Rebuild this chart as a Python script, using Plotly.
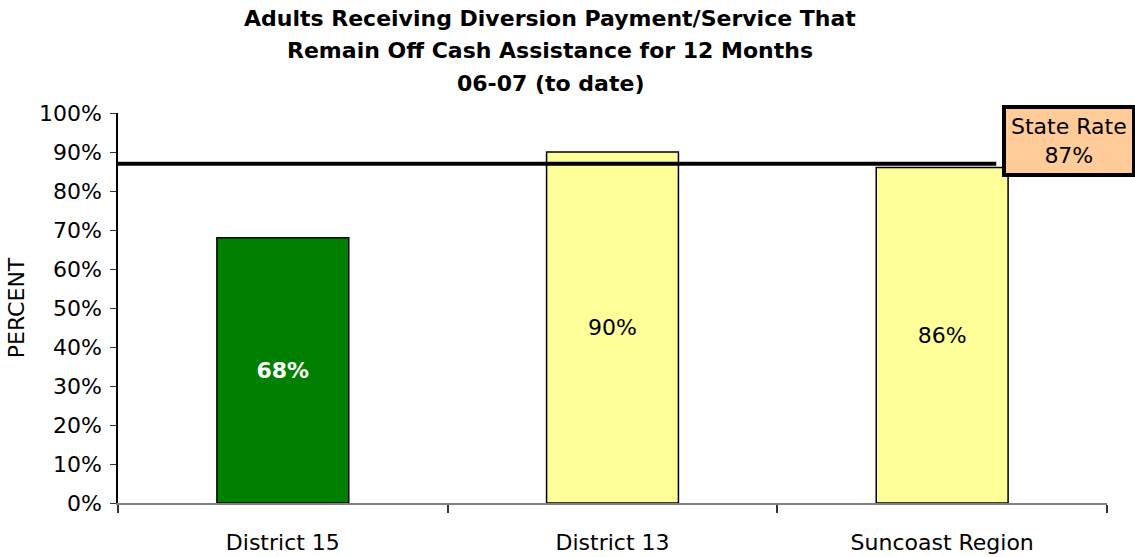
import plotly.graph_objects as go

# Share of adults receiving a diversion payment/service who stay off cash assistance
categories = ["District 15", "District 13", "Suncoast Region"]
percent_values = [68, 90, 86]
bar_colors = ["#008000", "#FFFF99", "#FFFF99"]
label_colors = ["white", "black", "black"]
label_weights = ["bold", "normal", "normal"]
state_rate = 87
y_tick_values = list(range(0, 101, 10))
y_tick_labels = [f"{v}%" for v in y_tick_values]
title_lines = [
    "Adults Receiving Diversion Payment/Service That",
    "Remain Off Cash Assistance for 12 Months",
    "06-07 (to date)",
]

FONT = "Tahoma, 'DejaVu Sans', sans-serif"

fig = go.Figure()
fig.add_trace(go.Bar(
    x=categories,
    y=percent_values,
    marker=dict(color=bar_colors, line=dict(color="#000000", width=1.5)),
    text=[f"<b>{v}%</b>" if w == "bold" else f"{v}%"
          for v, w in zip(percent_values, label_weights)],
    textposition="inside",
    insidetextanchor="middle",
    textangle=0,
    textfont=dict(family=FONT, size=22, color=label_colors),
    width=0.4,
    hoverinfo="skip",
))

# State rate reference line
fig.add_shape(type="line", xref="paper", yref="y",
              x0=0, x1=0.888, y0=state_rate, y1=state_rate,
              line=dict(color="black", width=4))

fig.add_annotation(
    xref="paper", yref="paper", x=0.9615, y=0.927,
    text=f"State Rate<br>{state_rate}%",
    showarrow=False,
    font=dict(family=FONT, size=22, color="black"),
    bgcolor="#FFCC99", bordercolor="black", borderwidth=4, borderpad=5,
    xanchor="center", yanchor="middle",
)

# Three-line bold title, each line placed separately
for i, line in enumerate(title_lines):
    fig.add_annotation(
        xref="paper", yref="paper", x=0.437, y=1.0, yshift=95 - 32.5 * i,
        text=f"<b>{line}</b>", showarrow=False,
        xanchor="center", yanchor="middle",
        font=dict(family=FONT, size=22, color="black"),
    )

fig.update_layout(
    width=1135, height=557,
    margin=dict(l=118, r=28, t=113, b=54),
    paper_bgcolor="white", plot_bgcolor="white",
    showlegend=False,
    font=dict(family=FONT, size=22, color="black"),
    xaxis=dict(
        type="category", tickson="boundaries", ticks="outside", ticklen=8,
        tickcolor="#333333", tickwidth=1.5,
        showline=True, linecolor="#808080", linewidth=2,
        showgrid=False, tickfont=dict(family=FONT, size=22),
        ticklabelstandoff=19, automargin=False,
        range=[-0.5, 2.5],
    ),
    yaxis=dict(
        range=[0, 100], tickvals=y_tick_values, ticktext=y_tick_labels,
        ticks="outside", ticklen=6, tickcolor="#333333",
        showline=True, linecolor="#000000", linewidth=1.5,
        showgrid=False, zeroline=False,
        tickfont=dict(family=FONT, size=22),
        ticklabelstandoff=4, automargin=False,
        title=dict(text="PERCENT", font=dict(family=FONT, size=22), standoff=8),
    ),
)

fig.write_html("out.html")
